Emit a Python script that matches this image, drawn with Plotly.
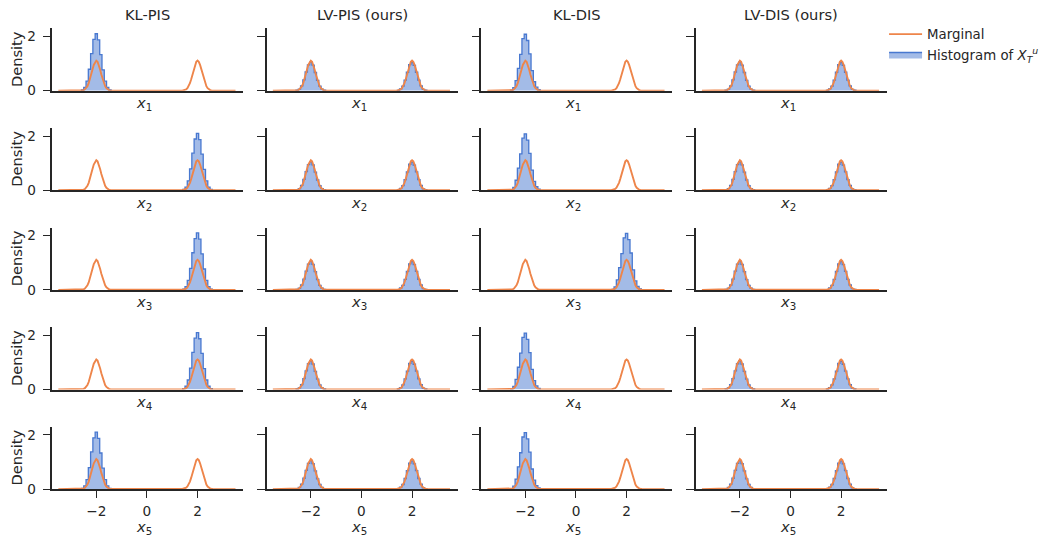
import plotly.graph_objects as go

# ---------------- data ----------------
methods = ["KL-PIS", "LV-PIS (ours)", "KL-DIS", "LV-DIS (ours)"]
dims = ["1", "2", "3", "4", "5"]

mode_centers = [-2, 2]
# marginal density around each mode, offsets from the mode centre
mode_offsets = [-0.60, -0.55, -0.50, -0.45, -0.40, -0.35, -0.30, -0.25, -0.20, -0.15, -0.10, -0.05,
                0.00, 0.05, 0.10, 0.15, 0.20, 0.25, 0.30, 0.35, 0.40, 0.45, 0.50, 0.55, 0.60]
mode_density = [0.004, 0.010, 0.023, 0.049, 0.094, 0.167, 0.276, 0.422, 0.598, 0.783, 0.950, 1.066,
                1.108, 1.066, 0.950, 0.783, 0.598, 0.422, 0.276, 0.167, 0.094, 0.049, 0.023, 0.010, 0.004]
curve_ends = [-3.5, 3.5]

# histogram bin edges (offsets from the mode centre)
hist_edge_offsets = [-0.585, -0.495, -0.405, -0.315, -0.225, -0.135, -0.045,
                     0.045, 0.135, 0.225, 0.315, 0.405, 0.495, 0.585]

# KL samplers collapse onto a single mode in each dimension
collapsed_mode = {"KL-PIS": [-2, 2, 2, 2, -2], "KL-DIS": [-2, -2, 2, -2, -2]}
collapsed_heights_pis = [0.03, 0.12, 0.35, 0.79, 1.37, 1.89, 2.10, 1.87, 1.33, 0.77, 0.35, 0.12, 0.03]
collapsed_heights_dis = [0.02, 0.11, 0.37, 0.82, 1.34, 1.92, 2.08, 1.85, 1.36, 0.74, 0.33, 0.13, 0.04]
# LV samplers cover both modes
balanced_heights_left = [0.02, 0.06, 0.18, 0.40, 0.69, 0.95, 1.05, 0.94, 0.67, 0.38, 0.17, 0.06, 0.02]
balanced_heights_right = [0.01, 0.07, 0.17, 0.39, 0.68, 0.96, 1.04, 0.93, 0.68, 0.39, 0.18, 0.05, 0.02]

x_ticks = [-2, 0, 2]
y_ticks = [0, 2]
x_range = [-3.75, 3.8]
y_range = [0, 2.3]

# ---------------- style ----------------
W0, H0 = 1042, 540          # target picture size
W, H = 1048, 548            # canvas size (viewport compensation)
SX, SY = W / W0, H / H0
FS = (SX + SY) / 2
INK = "#262626"
ORANGE = "#ee854a"
BLUE = "#4878d0"
BLUE_FILL = "rgba(72,120,208,0.5)"
FONT = "DejaVu Sans"

col_left0, col_w, col_step = 51.7, 190.0, 213.3
row_top0, row_h, row_step = 28.3, 62.4, 99.6


def px_x(p):
    return p / W0


def px_y(p):
    return 1 - p / H0


def step_xy(center, heights):
    edges = [center + e for e in hist_edge_offsets]
    xs = [edges[0]] + edges[:-1] + [edges[-1]]
    ys = [0] + list(heights) + [0]
    return xs, ys


fig = go.Figure()
annotations = []
legend_done = {"m": False, "h": False}

for r, d in enumerate(dims):
    for c, m in enumerate(methods):
        k = r * 4 + c + 1
        xa = "x" if k == 1 else f"x{k}"
        ya = "y" if k == 1 else f"y{k}"
        if m in collapsed_mode:
            heights = collapsed_heights_pis if m == "KL-PIS" else collapsed_heights_dis
            parts = [(collapsed_mode[m][r], heights)]
        else:
            parts = [(mode_centers[0], balanced_heights_left), (mode_centers[1], balanced_heights_right)]
        for center, heights in parts:
            xs, ys = step_xy(center, heights)
            show = not legend_done["h"]
            legend_done["h"] = True
            fig.add_trace(go.Scatter(
                x=xs, y=ys, xaxis=xa, yaxis=ya, mode="lines", line_shape="hv",
                line=dict(color=BLUE, width=1.3), fill="tozeroy", fillcolor=BLUE_FILL,
                name="Histogram of <i>X</i><sub><i>T</i></sub><sup><i>u</i></sup>",
                showlegend=show, legendrank=2, hoverinfo="skip"))
        mx = [curve_ends[0]]
        my = [0]
        for center in mode_centers:
            mx += [center + o for o in mode_offsets]
            my += mode_density
        mx.append(curve_ends[1])
        my.append(0)
        show = not legend_done["m"]
        legend_done["m"] = True
        fig.add_trace(go.Scatter(
            x=mx, y=my, xaxis=xa, yaxis=ya, mode="lines",
            line=dict(color=ORANGE, width=1.9), name="Marginal",
            showlegend=show, legendrank=1, hoverinfo="skip"))

        x0 = col_left0 + c * col_step
        x1 = x0 + col_w
        y0 = row_top0 + r * row_step
        y1 = y0 + row_h
        bottom = r == len(dims) - 1
        left = c == 0
        fig.layout[f"xaxis{'' if k == 1 else k}"] = dict(
            domain=[px_x(x0), px_x(x1)], anchor=ya, range=x_range,
            showline=True, linecolor=INK, linewidth=1.5, showgrid=False, zeroline=False,
            tickvals=x_ticks, ticks="outside" if bottom else "", ticklen=7 * SY, tickwidth=1.3,
            tickcolor=INK, showticklabels=bottom, layer="above traces", ticklabelstandoff=2,
            tickfont=dict(family=FONT, size=13.5 * FS, color=INK))
        fig.layout[f"yaxis{'' if k == 1 else k}"] = dict(
            domain=[px_y(y1), px_y(y0)], anchor=xa, range=y_range,
            showline=True, linecolor=INK, linewidth=1.5, showgrid=False, zeroline=False,
            tickvals=y_ticks, ticks="outside", ticklen=7.5 * SX, tickwidth=1.3, tickcolor=INK,
            showticklabels=left, layer="above traces", ticklabelstandoff=4,
            tickfont=dict(family=FONT, size=13.5 * FS, color=INK))
        ly = y1 + (38 if bottom else 13)
        annotations.append(dict(
            x=px_x((x0 + x1) / 2 - 3.5), y=px_y(ly), xref="paper", yref="paper",
            text=f"<i>x</i><sub>{d}</sub>", showarrow=False, xanchor="center", yanchor="middle",
            font=dict(family=FONT, size=14.5 * FS, color=INK)))
        if r == 0:
            annotations.append(dict(
                x=px_x((x0 + x1) / 2), y=px_y(14.5), xref="paper", yref="paper",
                text=m, showarrow=False, xanchor="center", yanchor="middle",
                font=dict(family=FONT, size=14.5 * FS, color=INK)))
        if left:
            annotations.append(dict(
                x=px_x(16.5), y=px_y((y0 + y1) / 2), xref="paper", yref="paper",
                text="Density", showarrow=False, xanchor="center", yanchor="middle", textangle=-90,
                font=dict(family=FONT, size=14.5 * FS, color=INK)))

fig.update_layout(
    width=W, height=H, autosize=False, margin=dict(l=0, r=0, t=0, b=0),
    paper_bgcolor="white", plot_bgcolor="white",
    annotations=annotations,
    legend=dict(x=px_x(879), y=px_y(19), xanchor="left", yanchor="top",
                font=dict(family=FONT, size=13.2 * FS, color=INK), bgcolor="rgba(0,0,0,0)",
                traceorder="normal", itemwidth=33),
    font=dict(family=FONT, color=INK),
)

fig.write_html("out.html",
               config={"displayModeBar": False, "responsive": False},
               default_width=f"{W}px", default_height=f"{H}px",
               post_script="document.body.style.margin='0';document.body.style.overflow='hidden';")
